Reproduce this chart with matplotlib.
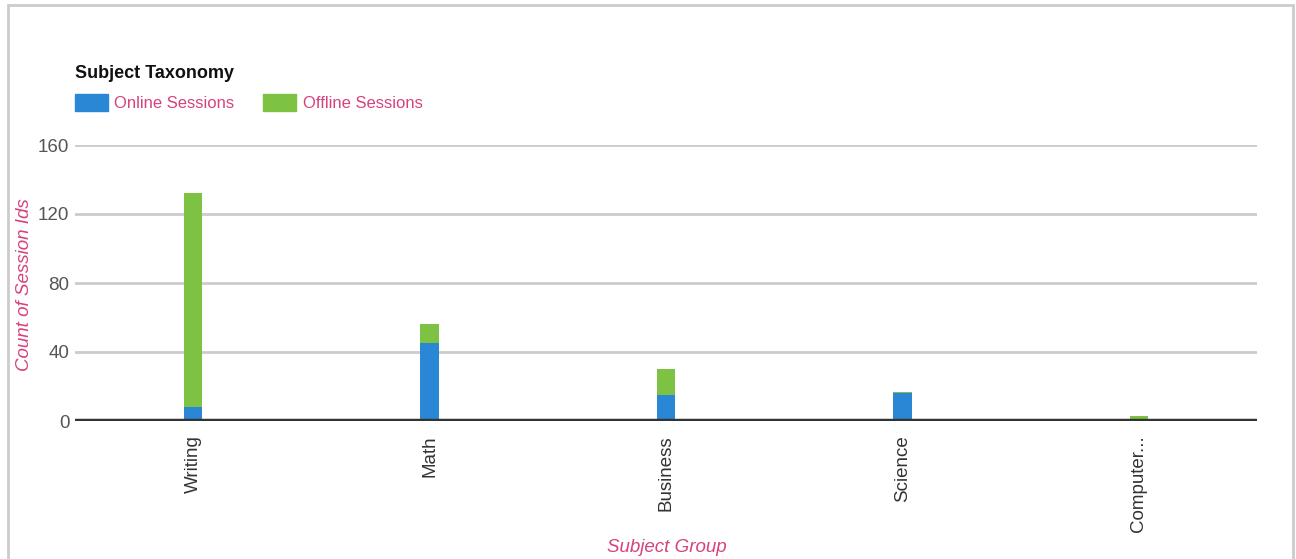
import matplotlib.pyplot as plt
from matplotlib.patches import Rectangle
import numpy as np

plt.rcParams['font.family'] = ['Liberation Sans', 'DejaVu Sans']

# Data
SUBJECTS = ['Writing', 'Math', 'Business', 'Science', 'Computer...']
ONLINE = [8, 45, 15, 16, 0]
OFFLINE = [124, 11, 15, 1, 3]

BLUE = '#2a87d5'
GREEN = '#7dc243'
PINK = '#d6427e'

fig = plt.figure(figsize=(12.96, 5.59), dpi=100)
fig.patch.set_facecolor('white')

# outer frame of the widget
fig.patches.append(Rectangle((8 / 1296, -0.05), 1285 / 1296, 1.05 - 5 / 559,
                             transform=fig.transFigure, fill=False,
                             edgecolor='#cccccc', linewidth=2))

ax = fig.add_axes([75 / 1296, (559 - 421) / 559, 1182 / 1296, 276 / 559])

x = np.arange(len(SUBJECTS))
ax.bar(x, ONLINE, width=0.078, color=BLUE, zorder=3)
ax.bar(x, OFFLINE, width=0.078, bottom=ONLINE, color=GREEN, zorder=3)

ax.set_xlim(-0.5, len(SUBJECTS) - 0.5)
ax.set_ylim(0, 160)
ax.set_yticks([0, 40, 80, 120, 160])
ax.yaxis.grid(True, color='#cccccc', linewidth=2, zorder=0)
ax.axhline(0, color='#333333', linewidth=3.2, zorder=4)

for s in ax.spines.values():
    s.set_visible(False)
ax.tick_params(axis='both', length=0)
ax.tick_params(axis='y', labelsize=13.5, labelcolor='#555555', pad=4)
ax.set_xticks(x)
ax.set_xticklabels(SUBJECTS, rotation=90, fontsize=13.5, color='#333333',
                   va='top')
ax.tick_params(axis='x', pad=10)

fig.text(25 / 1296, (559 - 285) / 559, 'Count of Session Ids', rotation=90,
         ha='center', va='center', style='italic', color=PINK, fontsize=13.5)
fig.text(667 / 1296, (559 - 548) / 559, 'Subject Group', ha='center',
         va='center', style='italic', color=PINK, fontsize=13.5)

# legend
fig.text(75 / 1296, (559 - 74) / 559, 'Subject Taxonomy', ha='left',
         va='center', fontweight='bold', color='#111111', fontsize=13)
fig.patches.append(Rectangle((75 / 1296, (559 - 111) / 559), 33 / 1296, 17 / 559,
                             transform=fig.transFigure, color=BLUE))
fig.text(114 / 1296, (559 - 103) / 559, 'Online Sessions', ha='left',
         va='center', color=PINK, fontsize=12)
fig.patches.append(Rectangle((263 / 1296, (559 - 111) / 559), 33 / 1296, 17 / 559,
                             transform=fig.transFigure, color=GREEN))
fig.text(303 / 1296, (559 - 103) / 559, 'Offline Sessions', ha='left',
         va='center', color=PINK, fontsize=12)

fig.savefig('out.png', dpi=100)
